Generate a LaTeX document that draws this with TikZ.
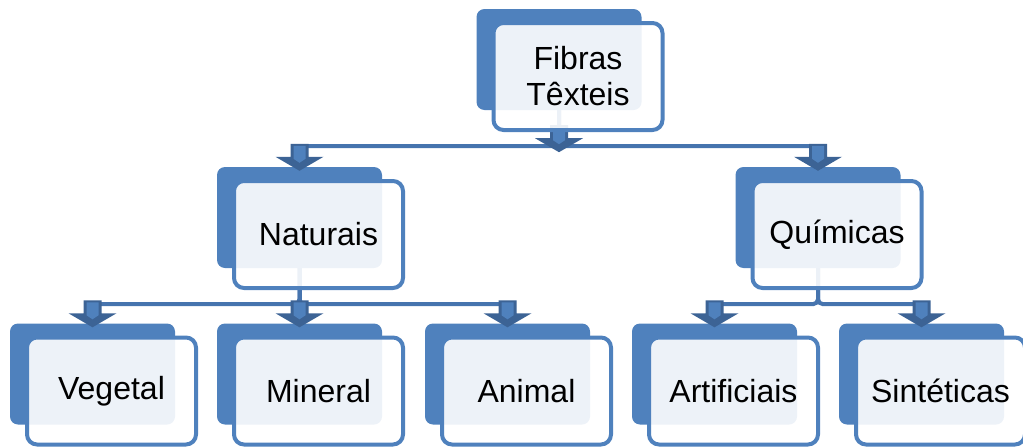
\documentclass[tikz,border=0pt]{standalone}
\usepackage{fontspec}
\setmainfont{Liberation Sans}
\usetikzlibrary{positioning}
\definecolor{boxblue}{HTML}{4F81BD}
\definecolor{linkblue}{HTML}{4674AE}
\definecolor{tipblue}{HTML}{3C6395}

\tikzset{blockarrow/.pic={
    \fill[tipblue] (-9,-27) -- (9,-27) -- (9,-14) -- (24,-14) -- (0,0) -- (-24,-14) -- (-9,-14) -- cycle;
    \fill[boxblue] (-6,-25) -- (6,-25) -- (6,-12) -- (0,-8) -- (-6,-12) -- cycle;
}}

\begin{document}
\begin{tikzpicture}[x=1pt,y=-1pt,node distance=17pt and 19pt,on grid]
    \tikzstyle{back}=[rectangle,rounded corners=8pt,fill=boxblue,minimum width=165pt,minimum height=101pt,inner sep=0pt]
    \tikzstyle{front}=[rectangle,rounded corners=10pt,draw=boxblue,line width=4pt,fill=white,fill opacity=0.9,text opacity=1,minimum width=169pt,minimum height=107pt,inner sep=0pt,align=center,font=\fontsize{32}{36}\selectfont]
    \tikzstyle{link}=[draw=linkblue,line width=4pt,rounded corners=5pt,to path={(\tikztostart.south) -- ++(0,36) -| (\tikztotarget.north)}]

    \useasboundingbox (0,0) rectangle (1023,447);

    \node[back] (fib) at (559,59.5) {};
    \node[back] (nat) at (299.5,217.5) {};
    \node[back] (qui) at (818,217.5) {};
    \node[back] (veg) at (92.5,374) {};
    \node[back] (min) at (299.5,374) {};
    \node[back] (ani) at (507.5,374) {};
    \node[back] (art) at (714.5,374) {};
    \node[back] (sin) at (921.5,374) {};

    \path[link]
    (fib) edge (nat)
    (fib) edge (qui)
    (nat) edge (veg)
    (nat) edge (min)
    (nat) edge (ani)
    (qui) edge (art)
    (qui) edge (sin)
    ;

    \foreach \c in {nat,qui,veg,min,ani,art,sin}
        \pic at ([yshift=-4pt]\c.north) {blockarrow};
    \pic at ([yshift=-42pt]fib.south) {blockarrow};

    \node[front, below right=of fib] (fibT) {Fibras\\Têxteis};
    \node[front, below right=of nat] (natT) {Naturais};
    \node[front, below right=of qui] (quiT) {Químicas};
    \node[front, below right=of veg] (vegT) {Vegetal};
    \node[front, below right=of min] (minT) {Mineral};
    \node[front, below right=of ani] (aniT) {Animal};
    \node[front, below right=of art] (artT) {Artificiais};
    \node[front, below right=of sin] (sinT) {Sintéticas};
\end{tikzpicture}
\end{document}
